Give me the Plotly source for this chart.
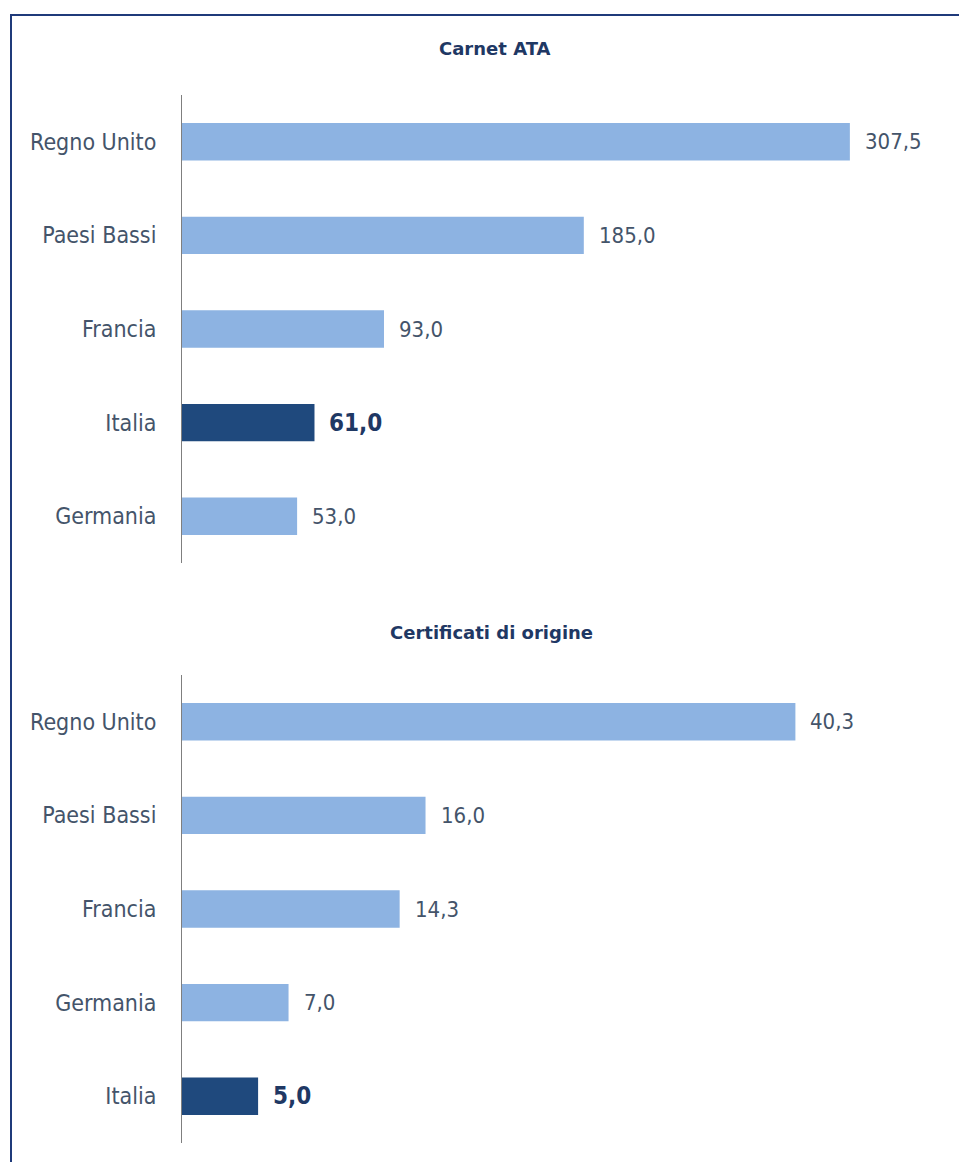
import plotly.graph_objects as go

# Data
ata_countries = ["Regno Unito", "Paesi Bassi", "Francia", "Italia", "Germania"]
ata_values = [307.5, 185.0, 93.0, 61.0, 53.0]
cert_countries = ["Regno Unito", "Paesi Bassi", "Francia", "Germania", "Italia"]
cert_values = [40.3, 16.0, 14.3, 7.0, 5.0]
titles = ["Carnet ATA", "Certificati di origine"]
highlight = "Italia"

LIGHT = "#8db3e2"
DARK = "#1f497d"
TXT = "#44546a"
FONT = "DejaVu Sans Condensed, DejaVu Sans"
TFONT = "DejaVu Sans"

W, H = 959, 1162
fig = go.Figure()

def fmt(v):
    return f"{v:.1f}".replace(".", ",")

panels = [
    (ata_countries, ata_values, "x", "y", 349.0),
    (cert_countries, cert_values, "x2", "y2", 49.8),
]
for cats, vals, xa, ya, _ in panels:
    colors = [DARK if c == highlight else LIGHT for c in cats]
    fig.add_trace(go.Bar(
        x=vals, y=cats, orientation="h", marker=dict(color=colors, line=dict(width=0)),
        width=0.4, xaxis=xa, yaxis=ya, hoverinfo="skip", showlegend=False,
    ))
    for c, v in zip(cats, vals):
        bold = c == highlight
        fig.add_annotation(
            x=v, y=c, xref=xa, yref=ya, xanchor="left", yanchor="middle",
            xshift=13, showarrow=False,
            text=f"<b>{fmt(v)}</b>" if bold else fmt(v),
            font=dict(family=FONT, size=24 if bold else 22,
                      color="#1f3864" if bold else TXT),
        )

x0 = 182 / W
x1 = 940 / W
fig.update_layout(
    width=W, height=H, margin=dict(l=0, r=0, t=0, b=0),
    paper_bgcolor="white", plot_bgcolor="white",
    xaxis=dict(domain=[x0, x1], range=[0, panels[0][4]], visible=False),
    xaxis2=dict(domain=[x0, x1], range=[0, panels[1][4]], visible=False, anchor="y2"),
    yaxis=dict(domain=[1 - 563 / H, 1 - 95 / H], autorange="reversed", showline=True,
               linecolor="#7f7f7f", linewidth=1, showgrid=False, ticks="",
               ticklabelstandoff=20, tickfont=dict(family=FONT, size=23, color=TXT)),
    yaxis2=dict(domain=[1 - 1143 / H, 1 - 675 / H], autorange="reversed", showline=True,
                linecolor="#7f7f7f", linewidth=1, showgrid=False, ticks="",
                ticklabelstandoff=20, anchor="x2",
                tickfont=dict(family=FONT, size=23, color=TXT)),
    bargap=0.6,
)

# Panel titles
for t, xpix, ypix in zip(titles, [495, 491], [48, 632]):
    fig.add_annotation(x=xpix / W, y=1 - ypix / H, xref="paper", yref="paper",
                       text=f"<b>{t}</b>", showarrow=False, xanchor="center", yanchor="middle",
                       font=dict(family=TFONT, size=18, color="#1f3864"))

# Outer frame (left and top edges visible)
fig.add_shape(type="rect", xref="paper", yref="paper",
              x0=11 / W, x1=1.02, y0=-0.02, y1=1 - 15 / H,
              line=dict(color="#1f3a7a", width=2), fillcolor="rgba(0,0,0,0)", layer="above")

fig.write_html("out.html")
